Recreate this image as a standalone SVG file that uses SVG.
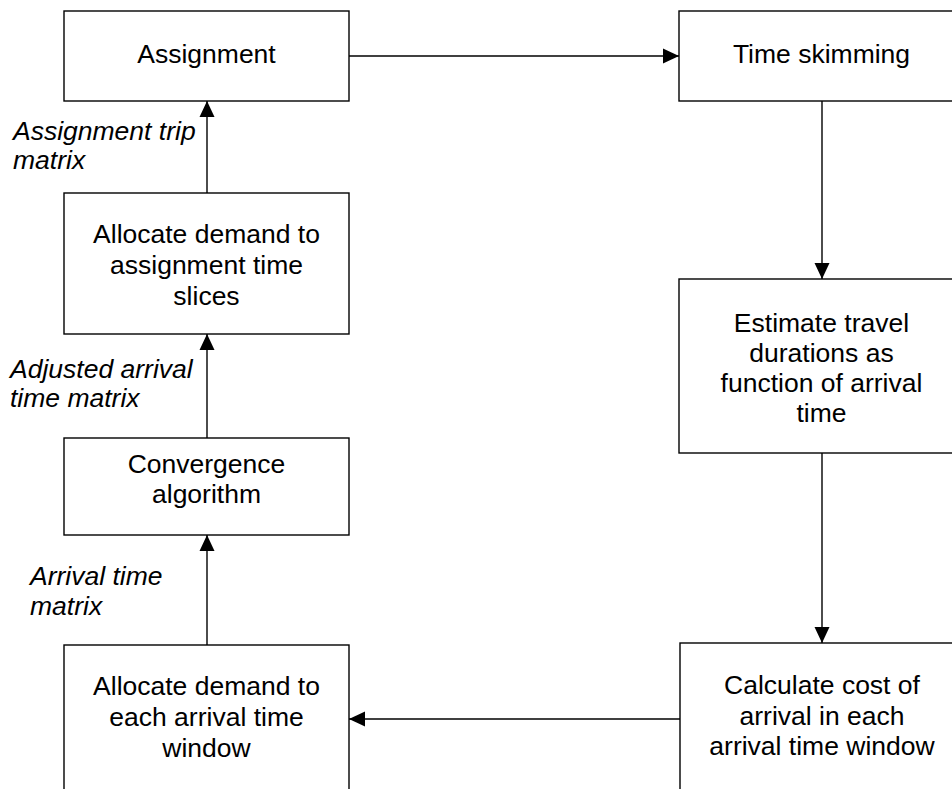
<svg xmlns="http://www.w3.org/2000/svg" width="952" height="789" viewBox="0 0 952 789">
<style>
.box{fill:#fff;stroke:#000;stroke-width:1.4}
.t{font-family:"Liberation Sans",Arial,sans-serif;font-size:26.5px;fill:#000;text-anchor:middle}
.lbl{font-family:"Liberation Sans",Arial,sans-serif;font-size:26.5px;font-style:italic;fill:#000}
.c{fill:none;stroke:#000;stroke-width:1.4}
</style>
<defs>
<marker id="ah" markerUnits="userSpaceOnUse" markerWidth="16" markerHeight="16" viewBox="0 0 16 16" refX="16" refY="8" orient="auto">
<path d="M0,0.5 L16,8 L0,15.5 Z" fill="#000"/>
</marker>
</defs>
<rect width="952" height="789" fill="#fff"/>
<g id="connectors">
<line class="c" x1="349" y1="56" x2="679" y2="56" marker-end="url(#ah)"/>
<line class="c" x1="822" y1="101" x2="822" y2="279" marker-end="url(#ah)"/>
<line class="c" x1="822" y1="453" x2="822" y2="643" marker-end="url(#ah)"/>
<line class="c" x1="680" y1="719" x2="349" y2="719" marker-end="url(#ah)"/>
<line class="c" x1="207" y1="645" x2="207" y2="535" marker-end="url(#ah)"/>
<line class="c" x1="207" y1="438" x2="207" y2="334" marker-end="url(#ah)"/>
<line class="c" x1="207" y1="193" x2="207" y2="101" marker-end="url(#ah)"/>
</g>
<g id="labels">
<text class="lbl" x="13" y="140">Assignment trip</text>
<text class="lbl" x="13" y="169">matrix</text>
<text class="lbl" x="10" y="378">Adjusted arrival</text>
<text class="lbl" x="10" y="407">time matrix</text>
<text class="lbl" x="30" y="585">Arrival time</text>
<text class="lbl" x="30" y="615">matrix</text>
</g>
<g id="assignment">
<rect class="box" x="64" y="11" width="285" height="90"/>
<text class="t" x="206.5" y="63">Assignment</text>
</g>
<g id="time-skimming">
<rect class="box" x="679" y="11" width="285" height="90"/>
<text class="t" x="821.5" y="63">Time skimming</text>
</g>
<g id="allocate-slices">
<rect class="box" x="64" y="193" width="285" height="141"/>
<text class="t" x="206.5" y="243">Allocate demand to</text>
<text class="t" x="206.5" y="274">assignment time</text>
<text class="t" x="206.5" y="305">slices</text>
</g>
<g id="estimate">
<rect class="box" x="679" y="279" width="285" height="174"/>
<text class="t" x="821.5" y="332">Estimate travel</text>
<text class="t" x="821.5" y="362">durations as</text>
<text class="t" x="821.5" y="392">function of arrival</text>
<text class="t" x="821.5" y="422">time</text>
</g>
<g id="convergence">
<rect class="box" x="64" y="438" width="285" height="97"/>
<text class="t" x="206.5" y="473">Convergence</text>
<text class="t" x="206.5" y="503">algorithm</text>
</g>
<g id="allocate-window">
<rect class="box" x="64" y="645" width="285" height="170"/>
<text class="t" x="206.5" y="695">Allocate demand to</text>
<text class="t" x="206.5" y="726">each arrival time</text>
<text class="t" x="206.5" y="757">window</text>
</g>
<g id="calculate">
<rect class="box" x="680" y="643" width="285" height="170"/>
<text class="t" x="822" y="694">Calculate cost of</text>
<text class="t" x="822" y="725">arrival in each</text>
<text class="t" x="822" y="755">arrival time window</text>
</g>
</svg>
